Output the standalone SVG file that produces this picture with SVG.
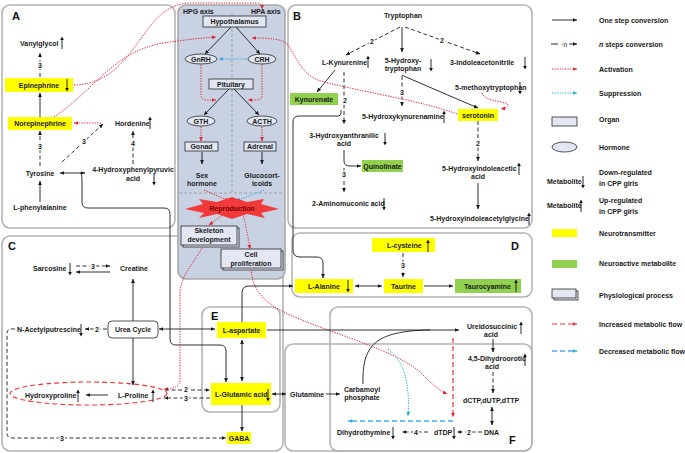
<svg xmlns="http://www.w3.org/2000/svg" width="685" height="453" viewBox="0 0 685 453">
<style>
.t{font-family:"Liberation Sans",Arial,sans-serif;font-size:7px;font-weight:bold;fill:#1a1a1a}
.c{text-anchor:middle}
.L{font-family:"Liberation Sans",Arial,sans-serif;font-size:11px;font-weight:bold;fill:#111}
.num{font-family:"Liberation Sans",Arial,sans-serif;font-size:7px;font-weight:bold;fill:#1a1a1a;text-anchor:middle;stroke:#fff;stroke-width:3;paint-order:stroke}
.panel{fill:none;stroke:#b4b4b4;stroke-width:1.6}
.s{stroke:#1a1a1a;stroke-width:0.9;fill:none;marker-end:url(#ah)}
.sb{stroke:#1a1a1a;stroke-width:0.9;fill:none;marker-end:url(#ah);marker-start:url(#ah)}
.d{stroke:#1a1a1a;stroke-width:0.9;fill:none;stroke-dasharray:4,2.5;marker-end:url(#ah)}
.act{stroke:#e32630;stroke-width:1;fill:none;stroke-dasharray:1.3,1.3;marker-end:url(#ar)}
.sup{stroke:#2aa8df;stroke-width:1;fill:none;stroke-dasharray:1.3,1.3;marker-end:url(#ab)}
.inc{stroke:#f2343a;stroke-width:1.2;fill:none;stroke-dasharray:5,3;marker-end:url(#ar)}
.dec{stroke:#4aaae6;stroke-width:1.6;fill:none;stroke-dasharray:5,3;marker-end:url(#ab)}
.org{fill:#e2e7f3;stroke:#2a2a2a;stroke-width:0.8}
.yel{fill:#ffff00}
.grn{fill:#92d050}
</style>
<defs>
<marker id="ah" viewBox="0 0 8 8" refX="7.5" refY="4" markerWidth="4.5" markerHeight="4.5" markerUnits="userSpaceOnUse" orient="auto-start-reverse"><path d="M0,0.5 L8,4 L0,7.5 z" fill="#1a1a1a"/></marker>
<marker id="ar" viewBox="0 0 8 8" refX="7.5" refY="4" markerWidth="4.5" markerHeight="4.5" markerUnits="userSpaceOnUse" orient="auto-start-reverse"><path d="M0,0.5 L8,4 L0,7.5 z" fill="#e32630"/></marker>
<marker id="ab" viewBox="0 0 8 8" refX="7.5" refY="4" markerWidth="4.5" markerHeight="4.5" markerUnits="userSpaceOnUse" orient="auto-start-reverse"><path d="M0,0.5 L8,4 L0,7.5 z" fill="#2aa8df"/></marker>
<g id="up"><line x1="0" y1="6" x2="0" y2="-3.5" stroke="#111" stroke-width="0.9"/><path d="M-1.8,-3 L0,-6.5 L1.8,-3 z" fill="#111"/></g>
<g id="dn"><line x1="0" y1="-6" x2="0" y2="3.5" stroke="#111" stroke-width="0.9"/><path d="M-1.8,3 L0,6.5 L1.8,3 z" fill="#111"/></g>
</defs>
<rect width="685" height="453" fill="#fff"/>

<!-- panels -->
<g id="panels">
<rect class="panel" x="2" y="5" width="173" height="223" rx="8"/>
<rect class="panel" x="288" y="5" width="244" height="223" rx="8"/>
<rect class="panel" x="2" y="236" width="281" height="215" rx="8"/>
<rect class="panel" x="292" y="233" width="240" height="64" rx="8"/>
<rect class="panel" x="202" y="307" width="78" height="105" rx="8"/>
<rect class="panel" x="330" y="307" width="202" height="144" rx="8"/>
<rect class="panel" x="285" y="344" width="247" height="107" rx="8"/>
<rect x="178" y="5" width="107" height="274" rx="8" fill="#c8d2e3" stroke="#a9a9a9" stroke-width="1.6"/>
<path d="M232,14 V193 M179,193 H284" stroke="#9c9c9c" stroke-width="0.9" stroke-dasharray="3,2" fill="none"/>
<text class="L" x="12" y="20">A</text>
<text class="L" x="293" y="20">B</text>
<text class="L" x="8" y="250">C</text>
<text class="L" x="511" y="250">D</text>
<text class="L" x="211" y="320">E</text>
<text class="L" x="509" y="444">F</text>
</g>

<!-- connectors -->
<g id="connectors">
<!-- A -->
<path class="d" d="M40,77 V53"/><text class="num" x="40" y="68">3</text>
<path class="s" d="M40,117 V93"/>
<path class="d" d="M40,166 V131"/><text class="num" x="40" y="149">3</text>
<path class="d" d="M62,162 L103,124"/><text class="num" x="84" y="144">3</text>
<path class="act" d="M101,123 H74"/>
<path class="d" d="M133,164 V131"/><text class="num" x="133" y="146">4</text>
<path class="s" d="M40,202 V181"/>
<path class="sb" d="M60,173 H85"/>
<path class="s" d="M80,173 Q82,173 82,180 V202 Q82,208 88,208 H164 Q170,208 170,214 V339 Q170,345 176,345 H220 Q226,345 226,351 V382"/>
<path class="act" d="M74,85 C110,84 125,60 145,33 C160,12 172,4 190,3 L256,3 Q262,3 262,9"/>
<path class="act" d="M54,117 C95,90 115,48 170,42 C185,40 200,38 216,37"/>
<!-- center -->
<path class="s" d="M231,27 L205,54"/>
<path class="s" d="M236,27 L260,54"/>
<path class="sup" d="M247,59 H219"/>
<path class="act" d="M201,65 V95 Q201,100 207,100 H216"/>
<path class="act" d="M262,65 V95 Q262,100 256,100 H248"/>
<path class="s" d="M229,89 L204,115"/>
<path class="s" d="M234,89 L259,115"/>
<path class="act" d="M201,127 V141"/>
<path class="act" d="M262,127 V141"/>
<path class="s" d="M202,152 V164"/>
<path class="s" d="M262,152 V164"/>
<path class="act" d="M204,190 L229,201"/>
<path class="sup" d="M264,190 L236,201"/>
<path class="act" d="M224,214 L209,225"/>
<path class="act" d="M243,214 Q247,230 250,249"/>
<path class="act" d="M203,246 C195,262 180,275 180,295 V380 Q180,389 164,389"/>
<path class="act" d="M251,269 C253,290 262,302 290,315 C330,333 395,350 420,372 C430,382 438,390 447,394"/>
<path class="sup" d="M388,349 C405,362 410,385 408,416"/>
<!-- B -->
<path class="d" d="M400,27 L346,55"/><text class="num" x="372" y="43.5">2</text>
<path class="s" d="M402,27 V52"/>
<path class="d" d="M405,27 L480,54"/><text class="num" x="442" y="42.5">2</text>
<path class="s" d="M335,70 L317,92"/>
<path d="M344,72 V124" stroke="#1a1a1a" stroke-width="0.9" stroke-dasharray="4,2.5" fill="none" marker-end="url(#ah)"/><text class="num" x="345" y="102.5">2</text>
<path class="s" d="M341,110 V113 Q341,116 338,116 H299 Q293,116 293,122 V250 Q293,257 300,257 H317 Q323,257 323,263 V278"/>
<path class="d" d="M402,76 V106"/><text class="num" x="402" y="94.5">3</text>
<path class="s" d="M402,75 L406,77 L478,108"/>
<path class="act" d="M482,93 C485,101 500,101 506,103 C510,105 509,108 501,109"/>
<path class="act" d="M457,114 C420,100 350,90 318,80 C300,73 294,52 287,44 C282,39 270,38 252,38"/>
<path class="d" d="M478,121 V161"/><text class="num" x="478" y="145.5">2</text>
<path class="s" d="M478,183 V209"/>
<path class="s" d="M344,150 V161 Q344,166 350,166 H361"/>
<path class="d" d="M344,168 V192"/><text class="num" x="344" y="176.5">3</text>
<!-- D -->
<path class="d" d="M403,253 V277"/><text class="num" x="403" y="267.5">3</text>
<path class="sb" d="M355,286 H382"/>
<path class="s" d="M424,286 H453"/>
<path class="s" d="M242,322 V293 Q242,286 249,286 H293"/>
<!-- C -->
<path class="d" d="M76,266 H110"/><text class="num" x="93" y="268.5">3</text>
<path class="s" d="M110,272 H76"/>
<path class="s" d="M133,321 V279"/>
<path class="s" d="M133,338 V385"/>
<path class="sb" d="M159,329 H215"/>
<path class="d" d="M107,329 H85"/><text class="num" x="97" y="331.5">2</text>
<path class="d" d="M15,329 H11 Q7,329 7,334 V433 Q7,438 12,438 H226"/><text class="num" x="62" y="440.5">3</text>
<path class="s" d="M108,395 H86"/>
<ellipse cx="88.5" cy="393.5" rx="78.5" ry="11.5" fill="none" stroke="#f2343a" stroke-width="1.1" stroke-dasharray="5,3"/>
<path class="d" d="M165,390 H210"/><text class="num" x="186" y="392">2</text>
<path class="d" d="M210,398 H164"/><text class="num" x="186" y="400.5">3</text>
<!-- E / F -->
<path class="sb" d="M242,340 V381"/>
<path class="s" d="M242,405 V431"/>
<path class="sb" d="M272,394 H286"/>
<path class="s" d="M326,394 H340"/>
<path class="s" d="M267,330 H459"/>
<path d="M363,384 C362,345 375,331 430,330" stroke="#1a1a1a" stroke-width="0.9" fill="none"/>
<path class="s" d="M493,339 V352"/>
<path class="d" d="M493,372 V393"/>
<path class="sb" d="M492,407 V425"/>
<path class="d" d="M482,432 H457"/><text class="num" x="469" y="434.5">2</text>
<path class="d" d="M428,432 H402"/><text class="num" x="416" y="434.5">4</text>
<path class="inc" d="M453,338 V417"/>
<path class="dec" d="M453,421 H348"/>
</g>

<!-- Panel A nodes -->
<g id="vanylglycol"><text class="t" x="20" y="46">Vanylglycol</text><use href="#up" x="62" y="43"/></g>
<g id="epinephrine"><rect class="yel" x="5" y="78" width="68" height="14"/><text class="t c" x="39" y="87.5">Epinephrine</text><use href="#dn" x="67" y="85"/></g>
<g id="norepinephrine"><rect class="yel" x="8" y="117" width="64" height="13"/><text class="t c" x="40" y="126">Norepinephrine</text></g>
<g id="hordenine"><text class="t" x="115" y="126">Hordenine</text><use href="#up" x="150" y="123"/></g>
<g id="hpp"><text class="t c" x="133" y="172">4-Hydroxyphenylpyruvic</text><text class="t c" x="133" y="180.5">acid</text><use href="#dn" x="154" y="179"/></g>
<g id="tyrosine"><text class="t c" x="40" y="176">Tyrosine</text></g>
<g id="phenylalanine"><text class="t c" x="40" y="210">L-phenylalanine</text></g>

<!-- center nodes -->
<g id="axes"><text class="t" x="183" y="14">HPG axis</text><text class="t" x="251" y="14">HPA axis</text></g>
<g id="hypothalamus"><rect class="org" x="203" y="16" width="63" height="11"/><text class="t c" x="234.5" y="24">Hypothalamus</text></g>
<g id="gnrh"><ellipse class="org" cx="201" cy="59" rx="16" ry="5"/><text class="t c" x="201" y="61.5">GnRH</text></g>
<g id="crh"><ellipse class="org" cx="262" cy="59" rx="14" ry="5"/><text class="t c" x="262" y="61.5">CRH</text></g>
<g id="pituitary"><rect class="org" x="209" y="79" width="44" height="10"/><text class="t c" x="231" y="86.5">Pituitary</text></g>
<g id="gth"><ellipse class="org" cx="201" cy="121" rx="14" ry="5"/><text class="t c" x="201" y="123.5">GTH</text></g>
<g id="acth"><ellipse class="org" cx="262" cy="121" rx="15" ry="5"/><text class="t c" x="262" y="123.5">ACTH</text></g>
<g id="gonad"><rect class="org" x="185" y="142" width="33" height="9"/><text class="t c" x="201.5" y="149">Gonad</text></g>
<g id="adrenal"><rect class="org" x="244" y="142" width="32" height="9"/><text class="t c" x="260" y="149">Adrenal</text></g>
<g id="sexhormone"><text class="t c" x="202" y="178">Sex</text><text class="t c" x="202" y="186">hormone</text></g>
<g id="glucocorticoids"><text class="t c" x="262" y="178">Glucocort-</text><text class="t c" x="262" y="186">icoids</text></g>
<g id="reproduction"><polygon points="185,209 203,204 199,199 217,202 232,197 247,202 264,199 261,204 279,209 261,213 265,218 247,214 232,219 217,214 199,218 204,213" fill="#f23a3a"/><text class="t c" x="232" y="210.5" style="fill:#7a0000">Reproduction</text></g>
<g id="skeleton"><rect class="org" x="183" y="228" width="56" height="19"/><rect class="org" x="181" y="226" width="56" height="19"/><text class="t c" x="209" y="233">Skeleton</text><text class="t c" x="209" y="242">development</text></g>
<g id="cellprolif"><rect class="org" x="223" y="251" width="60" height="19"/><rect class="org" x="221" y="249" width="60" height="19"/><text class="t c" x="251" y="256.5">Cell</text><text class="t c" x="251" y="265.5">proliferation</text></g>

<!-- Panel B nodes -->
<g id="tryptophan"><text class="t c" x="403" y="18">Tryptophan</text></g>
<g id="kynurenine"><text class="t" x="322" y="64.5">L-Kynurenine</text><use href="#up" x="368" y="62"/></g>
<g id="htp"><text class="t c" x="403" y="62.5">5-Hydroxy-</text><text class="t c" x="403" y="70.5">tryptophan</text><use href="#dn" x="431" y="65"/></g>
<g id="indoleacetonitrile"><text class="t" x="450" y="64.5">3-Indoleacetonitrile</text><use href="#dn" x="525" y="63"/></g>
<g id="methoxytryptophan"><text class="t" x="455" y="89.5">5-methoxytryptophan</text><use href="#dn" x="520" y="88"/></g>
<g id="kynurenate"><rect class="grn" x="290" y="93" width="48" height="12"/><text class="t c" x="314" y="101.5">Kynurenate</text></g>
<g id="hydroxykynurenamine"><text class="t" x="362" y="119">5-Hydroxykynurenamine</text><use href="#up" x="444" y="117"/></g>
<g id="serotonin"><rect class="yel" x="458" y="109" width="40" height="12"/><text class="t c" x="478" y="117.5">serotonin</text></g>
<g id="haa"><text class="t c" x="344" y="137.5">3-Hydroxyanthranilic</text><text class="t c" x="344" y="145.5">acid</text><use href="#dn" x="385" y="139"/></g>
<g id="quinolinate"><rect class="grn" x="362" y="160" width="41" height="12"/><text class="t c" x="382.5" y="168.5">Quinolinate</text></g>
<g id="aminomuconic"><text class="t" x="312" y="205.5">2-Aminomuconic acid</text><use href="#dn" x="384" y="204"/></g>
<g id="hiaa"><text class="t" x="442" y="170.5">5-Hydroxyindoleacetic</text><text class="t c" x="478" y="179">acid</text><use href="#up" x="519" y="169"/></g>
<g id="hiaglycine"><text class="t" x="430" y="220.5">5-Hydroxyindoleacetylglycine</text><use href="#up" x="529" y="219"/></g>

<!-- Panel D nodes -->
<g id="cysteine"><rect class="yel" x="372" y="238" width="63" height="14"/><text class="t" x="387" y="247.5">L-cysteine</text><use href="#up" x="428" y="246"/></g>
<g id="taurine"><rect class="yel" x="384" y="279" width="39" height="14"/><text class="t c" x="403.5" y="288.5">Taurine</text></g>
<g id="alanine"><rect class="yel" x="295" y="279" width="58" height="14"/><text class="t" x="308" y="288.5">L-Alanine</text><use href="#dn" x="348" y="286"/></g>
<g id="taurocyamine"><rect class="grn" x="455" y="279" width="66" height="14"/><text class="t" x="464" y="288.5">Taurocyamine</text><use href="#up" x="516" y="286"/></g>

<!-- Panel C nodes -->
<g id="sarcosine"><text class="t" x="33" y="270.5">Sarcosine</text><use href="#dn" x="70" y="269"/></g>
<g id="creatine"><text class="t c" x="134" y="270.5">Creatine</text></g>
<g id="ureacycle"><rect x="108" y="321" width="50" height="17" rx="4" fill="#fff" stroke="#2a2a2a" stroke-width="0.8"/><text class="t c" x="133" y="332">Urea Cycle</text></g>
<g id="acetylputrescine"><text class="t" x="17" y="331.5">N-Acetylputrescine</text><use href="#dn" x="81" y="330"/></g>
<g id="hydroxyproline"><text class="t" x="25" y="397.5">Hydroxyproline</text><use href="#up" x="78" y="396"/></g>
<g id="proline"><text class="t" x="118" y="397.5">L-Proline</text><use href="#up" x="153" y="396"/></g>

<!-- Panel E nodes -->
<g id="aspartate"><rect class="yel" x="217" y="322" width="49" height="16"/><text class="t c" x="241.5" y="332.5">L-aspartate</text></g>
<g id="glutamic"><rect class="yel" x="211" y="383" width="60" height="22"/><text class="t" x="215" y="396.5">L-Glutamic acid</text><use href="#dn" x="268" y="395"/></g>
<g id="gaba"><rect class="yel" x="227" y="432" width="24" height="12"/><text class="t c" x="239" y="440.5">GABA</text></g>

<!-- Panel F nodes -->
<g id="glutamine"><text class="t" x="290" y="396.5">Glutamine</text></g>
<g id="carbamoyl"><text class="t c" x="362" y="391.5">Carbamoyl</text><text class="t c" x="362" y="400">phosphate</text></g>
<g id="ureidosuccinic"><text class="t" x="467" y="328.5">Ureidosuccinic</text><text class="t c" x="491" y="336.5">acid</text><use href="#up" x="521" y="328"/></g>
<g id="dihydroorotic"><text class="t" x="468" y="360.5">4,5-Dihydroorotic</text><text class="t c" x="492" y="369">acid</text><use href="#up" x="525" y="360"/></g>
<g id="dntp"><text class="t" x="463" y="402.5">dCTP,dUTP,dTTP</text></g>
<g id="dna"><text class="t" x="484" y="434.5">DNA</text></g>
<g id="dtdp"><text class="t" x="434" y="434.5">dTDP</text><use href="#dn" x="454" y="433"/></g>
<g id="dihydrothymine"><text class="t" x="337" y="434.5">Dihydrothymine</text><use href="#dn" x="393" y="433"/></g>

<!-- legend -->
<g id="legend">
<path class="s" d="M552,20 H577"/><text class="t" x="599" y="22.5">One step conversion</text>
<path d="M551,44 H558" stroke="#1a1a1a" stroke-width="0.9"/><text class="t" x="561" y="46.5" style="font-weight:normal">·n</text><path class="s" d="M569,44 H577"/><text class="t" x="599" y="46.5"><tspan style="font-style:italic">n</tspan> steps conversion</text>
<path class="act" d="M552,69 H577"/><text class="t" x="599" y="71.5">Activation</text>
<path class="sup" d="M552,93 H577"/><text class="t" x="599" y="95.5">Suppression</text>
<rect class="org" x="552" y="117" width="25" height="9"/><text class="t" x="599" y="121.5">Organ</text>
<ellipse class="org" cx="564.5" cy="147" rx="12.5" ry="5"/><text class="t" x="599" y="149.5">Hormone</text>
<text class="t" x="547" y="184">Metabolite</text><use href="#dn" x="583" y="182"/><text class="t" x="599" y="174.5">Down-regulated</text><text class="t" x="599" y="185.5">in CPP girls</text>
<text class="t" x="547" y="208">Metabolite</text><use href="#up" x="581" y="206"/><text class="t" x="599" y="202.5">Up-regulated</text><text class="t" x="599" y="213.5">in CPP girls</text>
<rect class="yel" x="552" y="229" width="25" height="8"/><text class="t" x="599" y="235.5">Neurotransmitter</text>
<rect class="grn" x="552" y="260" width="25" height="8"/><text class="t" x="599" y="265.5">Neuroactive metabolite</text>
<rect class="org" x="554" y="291" width="24" height="9"/><rect class="org" x="552" y="289" width="24" height="9"/><text class="t" x="599" y="297.5">Physiological process</text>
<path class="inc" d="M552,324 H577"/><text class="t" x="599" y="326.5">Increased metabolic flow</text>
<path class="dec" d="M552,351 H577"/><text class="t" x="599" y="353.5">Decreased metabolic flow</text>
</g>
</svg>
